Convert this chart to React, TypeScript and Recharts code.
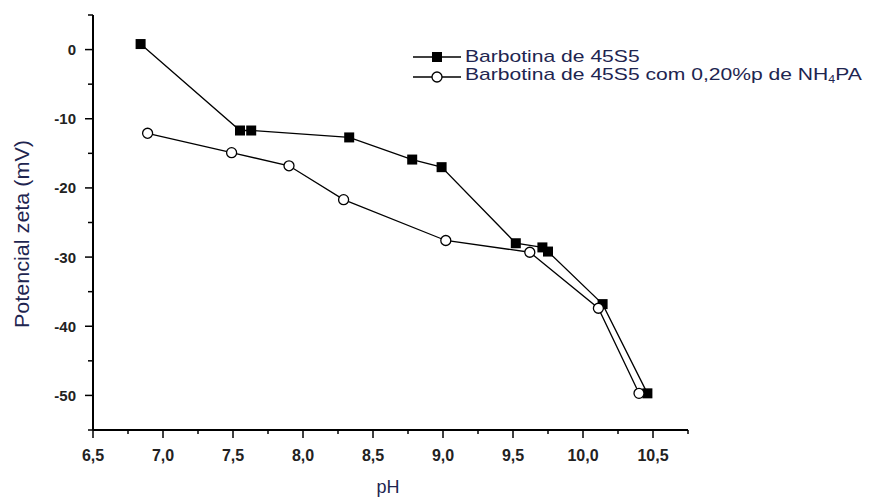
import { ComposedChart, Line, XAxis, YAxis, Legend, Label } from "recharts";

const phPlain = [6.84, 7.55, 7.63, 8.33, 8.78, 8.99, 9.52, 9.71, 9.75, 10.14, 10.46];
const zetaPlain = [0.8, -11.7, -11.7, -12.7, -15.9, -17.0, -28.0, -28.6, -29.2, -36.8, -49.7];

const phNh4pa = [6.89, 7.49, 7.9, 8.29, 9.02, 9.62, 10.11, 10.4];
const zetaNh4pa = [-12.1, -14.9, -16.8, -21.7, -27.6, -29.3, -37.4, -49.7];

const xTicks = [6.5, 6.75, 7, 7.25, 7.5, 7.75, 8, 8.25, 8.5, 8.75, 9, 9.25, 9.5, 9.75, 10, 10.25, 10.5, 10.75];
const yTicks = [5, 0, -5, -10, -15, -20, -25, -30, -35, -40, -45, -50, -55];

const seriesNames = ["Barbotina de 45S5", "Barbotina de 45S5 com 0,20%p de NH"];

const plainData = phPlain.map((x, i) => ({ x, y: zetaPlain[i] }));
const nh4paData = phNh4pa.map((x, i) => ({ x, y: zetaNh4pa[i] }));

const font = "'Liberation Sans', Arial, sans-serif";
const textColor = "#1e2550";

const XTick = ({ x, y, payload }: any) => {
  const v = payload.value;
  const major = Math.abs(v * 2 - Math.round(v * 2)) < 1e-6;
  return (
    <g>
      <line x1={x} y1={y} x2={x} y2={y + (major ? 8 : 4)} stroke="#000" strokeWidth={1.5} />
      {major && (
        <text x={x} y={y + 31} textAnchor="middle" fontSize={16} fontWeight="bold" fill="#222" fontFamily={font}>
          {v.toFixed(1).replace(".", ",")}
        </text>
      )}
    </g>
  );
};

const YTick = ({ x, y, payload }: any) => {
  const v = payload.value;
  const major = v % 10 === 0;
  return (
    <g>
      <line x1={x - (major ? 8 : 5)} y1={y} x2={x} y2={y} stroke="#000" strokeWidth={1.5} />
      {major && (
        <text x={x - 17} y={y + 5.5} textAnchor="end" fontSize={15} fontWeight="bold" fill="#222" fontFamily={font}>
          {v}
        </text>
      )}
    </g>
  );
};

const SquareDot = ({ cx, cy, index }: any) => (
  <rect key={`s${index}`} x={cx - 5} y={cy - 5} width={10} height={10} fill="#000" />
);

const CircleDot = ({ cx, cy, index }: any) => (
  <circle key={`c${index}`} cx={cx} cy={cy} r={5} fill="#fff" stroke="#000" strokeWidth={1.3} />
);

const LegendIcon = ({ filled }: { filled: boolean }) => (
  <svg width={50} height={20} style={{ display: "block", flex: "none" }}>
    <line x1={1} y1={10} x2={49} y2={10} stroke="#000" strokeWidth={1.3} />
    {filled ? (
      <rect x={20} y={5} width={10} height={10} fill="#000" />
    ) : (
      <circle cx={25} cy={10} r={5} fill="#fff" stroke="#000" strokeWidth={1.3} />
    )}
  </svg>
);

const ChartLegend = () => (
  <div style={{ fontFamily: font, fontSize: 17, color: textColor }}>
    {seriesNames.map((name, i) => (
      <div key={name} style={{ display: "flex", alignItems: "center", height: 20 }}>
        <LegendIcon filled={i === 0} />
        <span
          style={{
            marginLeft: 3,
            whiteSpace: "nowrap",
            display: "inline-block",
            transform: "scaleX(1.24)",
            transformOrigin: "left center",
            lineHeight: "20px",
          }}
        >
          {name}
          {i === 1 && (
            <>
              <sub style={{ fontSize: 10, verticalAlign: -3 }}>4</sub>PA
            </>
          )}
        </span>
      </div>
    ))}
  </div>
);

export default function App() {
  return (
    <div style={{ position: "absolute", left: 0, top: 0, width: 869, height: 498, background: "#fff", overflow: "hidden" }}>
      <ComposedChart width={869} height={498} margin={{ top: 15, right: 181, bottom: 38, left: 33 }}>
        <XAxis
          type="number"
          dataKey="x"
          domain={[6.5, 10.75]}
          ticks={xTicks}
          interval={0}
          allowDataOverflow
          axisLine={{ stroke: "#000", strokeWidth: 2 }}
          tickLine={false}
          tickSize={0}
          tickMargin={0}
          tick={<XTick />}
          height={30}
        >
          <Label
            content={() => (
              <text x={388} y={493} textAnchor="middle" fontSize={18} fill={textColor} fontFamily={font}>
                pH
              </text>
            )}
          />
        </XAxis>
        <YAxis
          type="number"
          dataKey="y"
          domain={[-55, 5]}
          ticks={yTicks}
          interval={0}
          allowDataOverflow
          axisLine={{ stroke: "#000", strokeWidth: 2 }}
          tickLine={false}
          tickSize={0}
          tickMargin={0}
          tick={<YTick />}
          width={60}
        >
          <Label
            content={() => (
              <text
                x={22}
                y={234}
                transform="rotate(-90 22 234)"
                textAnchor="middle"
                dominantBaseline="central"
                fontSize={20}
                textLength={188}
                lengthAdjust="spacingAndGlyphs"
                fill={textColor}
                fontFamily={font}
              >
                Potencial zeta (mV)
              </text>
            )}
          />
        </YAxis>
        <Legend
          layout="vertical"
          verticalAlign="middle"
          align="center"
          wrapperStyle={{ position: "absolute", left: 412, top: 47, width: "auto" }}
          content={() => <ChartLegend />}
        />
        <Line
          data={plainData}
          dataKey="y"
          type="linear"
          stroke="#000"
          strokeWidth={1.3}
          dot={<SquareDot />}
          activeDot={false}
          isAnimationActive={false}
          name={seriesNames[0]}
        />
        <Line
          data={nh4paData}
          dataKey="y"
          type="linear"
          stroke="#000"
          strokeWidth={1.3}
          dot={<CircleDot />}
          activeDot={false}
          isAnimationActive={false}
          name={seriesNames[1]}
        />
      </ComposedChart>
    </div>
  );
}
